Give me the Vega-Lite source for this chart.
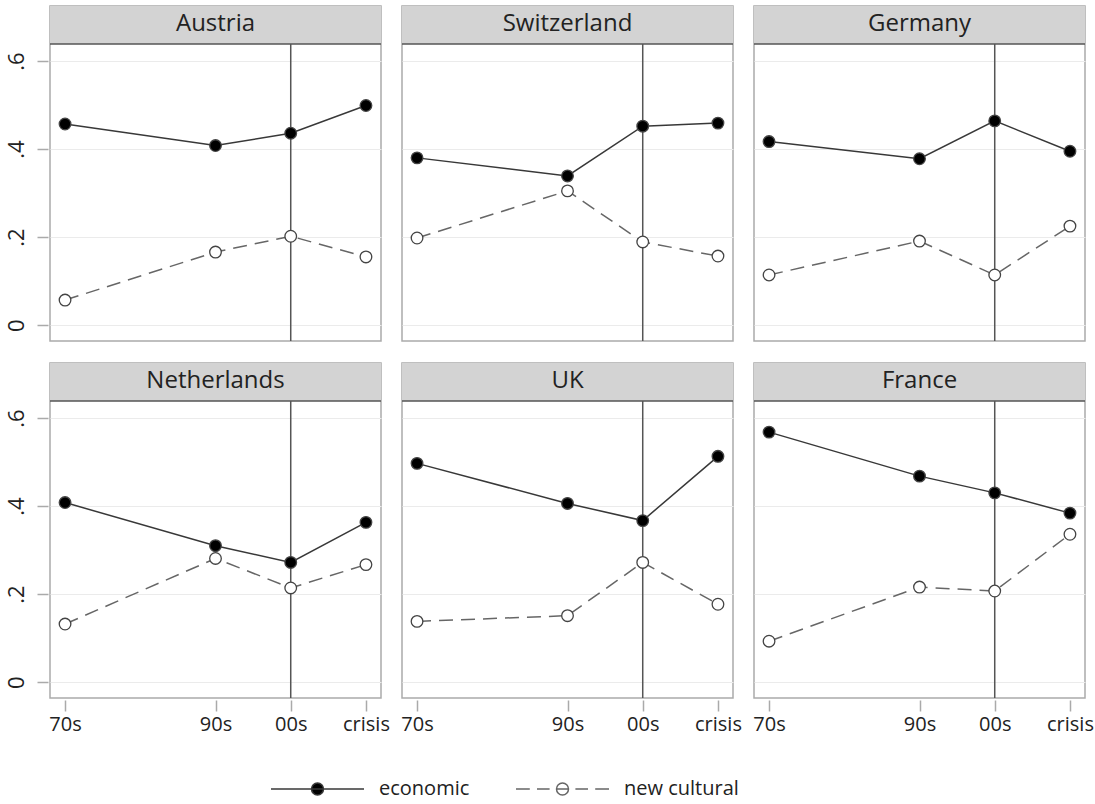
{
  "$schema": "https://vega.github.io/schema/vega-lite/v6.json",
  "background": "white",
  "padding": {"left": 5, "top": 5, "right": 0, "bottom": 5},
  "data": {"values": [
    {"country":"Austria","series":"economic","year":1970,"value":0.457},
    {"country":"Austria","series":"economic","year":1990,"value":0.408},
    {"country":"Austria","series":"economic","year":2000,"value":0.436},
    {"country":"Austria","series":"economic","year":2010,"value":0.499},
    {"country":"Austria","series":"new cultural","year":1970,"value":0.057},
    {"country":"Austria","series":"new cultural","year":1990,"value":0.166},
    {"country":"Austria","series":"new cultural","year":2000,"value":0.202},
    {"country":"Austria","series":"new cultural","year":2010,"value":0.155},
    {"country":"Switzerland","series":"economic","year":1970,"value":0.380},
    {"country":"Switzerland","series":"economic","year":1990,"value":0.339},
    {"country":"Switzerland","series":"economic","year":2000,"value":0.452},
    {"country":"Switzerland","series":"economic","year":2010,"value":0.459},
    {"country":"Switzerland","series":"new cultural","year":1970,"value":0.198},
    {"country":"Switzerland","series":"new cultural","year":1990,"value":0.305},
    {"country":"Switzerland","series":"new cultural","year":2000,"value":0.189},
    {"country":"Switzerland","series":"new cultural","year":2010,"value":0.157},
    {"country":"Germany","series":"economic","year":1970,"value":0.417},
    {"country":"Germany","series":"economic","year":1990,"value":0.378},
    {"country":"Germany","series":"economic","year":2000,"value":0.464},
    {"country":"Germany","series":"economic","year":2010,"value":0.395},
    {"country":"Germany","series":"new cultural","year":1970,"value":0.114},
    {"country":"Germany","series":"new cultural","year":1990,"value":0.191},
    {"country":"Germany","series":"new cultural","year":2000,"value":0.114},
    {"country":"Germany","series":"new cultural","year":2010,"value":0.225},
    {"country":"Netherlands","series":"economic","year":1970,"value":0.408},
    {"country":"Netherlands","series":"economic","year":1990,"value":0.310},
    {"country":"Netherlands","series":"economic","year":2000,"value":0.272},
    {"country":"Netherlands","series":"economic","year":2010,"value":0.363},
    {"country":"Netherlands","series":"new cultural","year":1970,"value":0.132},
    {"country":"Netherlands","series":"new cultural","year":1990,"value":0.281},
    {"country":"Netherlands","series":"new cultural","year":2000,"value":0.214},
    {"country":"Netherlands","series":"new cultural","year":2010,"value":0.267},
    {"country":"UK","series":"economic","year":1970,"value":0.497},
    {"country":"UK","series":"economic","year":1990,"value":0.406},
    {"country":"UK","series":"economic","year":2000,"value":0.367},
    {"country":"UK","series":"economic","year":2010,"value":0.513},
    {"country":"UK","series":"new cultural","year":1970,"value":0.138},
    {"country":"UK","series":"new cultural","year":1990,"value":0.151},
    {"country":"UK","series":"new cultural","year":2000,"value":0.272},
    {"country":"UK","series":"new cultural","year":2010,"value":0.177},
    {"country":"France","series":"economic","year":1970,"value":0.568},
    {"country":"France","series":"economic","year":1990,"value":0.468},
    {"country":"France","series":"economic","year":2000,"value":0.430},
    {"country":"France","series":"economic","year":2010,"value":0.384},
    {"country":"France","series":"new cultural","year":1970,"value":0.093},
    {"country":"France","series":"new cultural","year":1990,"value":0.216},
    {"country":"France","series":"new cultural","year":2000,"value":0.207},
    {"country":"France","series":"new cultural","year":2010,"value":0.336}
  ]},
  "facet": {
    "field": "country",
    "type": "nominal",
    "sort": ["Austria","Switzerland","Germany","Netherlands","UK","France"],
    "header": {"title": null, "labelExpr": "''", "labelFontSize": 0.01, "labelPadding": 0}
  },
  "columns": 3,
  "spacing": {"column": 17, "row": 19},
  "spec": {
    "width": 331,
    "height": 335,
    "encoding": {
      "x": {"field": "year", "type": "quantitative",
        "scale": {"domain": [1968, 2012], "nice": false, "zero": false},
        "axis": {"title": null, "values": [1970, 1990, 2000, 2010], "grid": false, "domain": false,
          "labelExpr": "datum.value == 1970 ? '70s' : datum.value == 1990 ? '90s' : datum.value == 2000 ? '00s' : 'crisis'",
          "labelFont": "Open Sans", "labelFontSize": 20, "labelColor": "#222", "tickColor": "#aaa", "tickSize": 11, "tickWidth": 1.5, "labelPadding": 3}},
      "y": {"field": "value", "type": "quantitative",
        "scale": {"domain": [-0.036, 0.725], "nice": false, "zero": false},
        "axis": {"title": null, "values": [0, 0.2, 0.4, 0.6], "grid": true, "gridColor": "#ebebeb", "gridWidth": 1.2, "domain": false,
          "labelExpr": "datum.value === 0 ? '0' : replace(format(datum.value, '.1f'), '0.', '.')",
          "labelAngle": -90, "labelFont": "Open Sans", "labelFontSize": 22, "labelColor": "#222", "tickColor": "#aaa", "tickSize": 11, "tickWidth": 1.5, "labelPadding": 9}}
    },
    "layer": [
      {
        "transform": [{"filter": "datum.year == 1970 && datum.series == 'economic'"}],
        "mark": {"type": "rect", "fill": "#d3d3d3"},
        "encoding": {"x": {"datum": 1968}, "x2": {"datum": 2012}, "y": {"datum": 0.6386}, "y2": {"datum": 0.725}}
      },
      {
        "transform": [{"filter": "datum.year == 1970 && datum.series == 'economic'"}],
        "mark": {"type": "text", "font": "Open Sans", "fontSize": 24, "color": "#222", "baseline": "middle", "align": "center"},
        "encoding": {"x": {"datum": 1990}, "y": {"datum": 0.683}, "text": {"field": "country"}}
      },
      {
        "transform": [{"filter": "datum.year == 1970 && datum.series == 'economic'"}],
        "mark": {"type": "rule", "color": "#555", "strokeWidth": 1.5},
        "encoding": {"x": {"datum": 1968}, "x2": {"datum": 2012}, "y": {"datum": 0.6386}}
      },
      {
        "transform": [{"filter": "datum.year == 1970 && datum.series == 'economic'"}],
        "mark": {"type": "rule", "color": "#555", "strokeWidth": 1.5},
        "encoding": {"x": {"datum": 2000}, "y": {"datum": -0.036}, "y2": {"datum": 0.6386}}
      },
      {
        "transform": [{"filter": "datum.series == 'economic'"}],
        "mark": {"type": "line", "strokeWidth": 1.5},
        "encoding": {
          "stroke": {"field": "series", "type": "nominal", "scale": {"domain": ["economic", "new cultural"], "range": ["#383838", "#666666"]},
            "legend": {"title": null, "orient": "none", "legendX": 217, "legendY": 773, "direction": "horizontal",
              "labelFont": "Open Sans", "labelFontSize": 20, "labelColor": "#222",
              "symbolSize": 144, "labelOffset": 92, "columnPadding": 42,
              "encode": {"symbols": {"update": {
                "shape": {"signal": "datum.value === 'economic' ? 'M-1,0H14.5M5.75,0A1,1,0,1,1,7.75,0A1,1,0,1,1,5.75,0Z' : 'M-1,0H1.3M2.5,0H4.6M5.75,0H7.75M8.9,0H11M12.2,0H14.5M5.75,0A1,1,0,1,1,7.75,0A1,1,0,1,1,5.75,0Z'"},
                "fill": {"signal": "datum.value === 'economic' ? '#000' : '#fff'"},
                "stroke": {"signal": "datum.value === 'economic' ? '#222' : '#555'"},
                "strokeWidth": {"value": 1.5},
                "size": {"value": 144},
                "opacity": {"value": 1}
              }}}}}
        }
      },
      {
        "transform": [{"filter": "datum.series == 'new cultural'"}],
        "mark": {"type": "line", "strokeWidth": 1.5, "strokeDash": [14, 8]},
        "encoding": {
          "stroke": {"field": "series", "type": "nominal", "scale": {"domain": ["economic", "new cultural"], "range": ["#383838", "#666666"]},
            "legend": {"title": null, "orient": "none", "legendX": 217, "legendY": 773, "direction": "horizontal",
              "labelFont": "Open Sans", "labelFontSize": 20, "labelColor": "#222",
              "symbolSize": 144, "labelOffset": 92, "columnPadding": 42,
              "encode": {"symbols": {"update": {
                "shape": {"signal": "datum.value === 'economic' ? 'M-1,0H14.5M5.75,0A1,1,0,1,1,7.75,0A1,1,0,1,1,5.75,0Z' : 'M-1,0H1.3M2.5,0H4.6M5.75,0H7.75M8.9,0H11M12.2,0H14.5M5.75,0A1,1,0,1,1,7.75,0A1,1,0,1,1,5.75,0Z'"},
                "fill": {"signal": "datum.value === 'economic' ? '#000' : '#fff'"},
                "stroke": {"signal": "datum.value === 'economic' ? '#222' : '#555'"},
                "strokeWidth": {"value": 1.5},
                "size": {"value": 144},
                "opacity": {"value": 1}
              }}}}}
        }
      },
      {
        "mark": {"type": "point", "shape": "circle", "size": 135, "filled": true, "stroke": "#444", "strokeWidth": 1.3, "opacity": 1},
        "encoding": {
          "fill": {"field": "series", "type": "nominal", "scale": {"domain": ["economic", "new cultural"], "range": ["#000000", "#ffffff"]},
            "legend": {"title": null, "orient": "none", "legendX": 217, "legendY": 773, "direction": "horizontal",
              "labelFont": "Open Sans", "labelFontSize": 20, "labelColor": "#222",
              "symbolSize": 144, "labelOffset": 92, "columnPadding": 42,
              "encode": {"symbols": {"update": {
                "shape": {"signal": "datum.value === 'economic' ? 'M-1,0H14.5M5.75,0A1,1,0,1,1,7.75,0A1,1,0,1,1,5.75,0Z' : 'M-1,0H1.3M2.5,0H4.6M5.75,0H7.75M8.9,0H11M12.2,0H14.5M5.75,0A1,1,0,1,1,7.75,0A1,1,0,1,1,5.75,0Z'"},
                "fill": {"signal": "datum.value === 'economic' ? '#000' : '#fff'"},
                "stroke": {"signal": "datum.value === 'economic' ? '#222' : '#555'"},
                "strokeWidth": {"value": 1.5},
                "size": {"value": 144},
                "opacity": {"value": 1}
              }}}}}
        }
      }
    ]
  },
  "config": {
    "view": {"stroke": "#aaaaaa", "strokeWidth": 1.5},
    "font": "Open Sans"
  }
}
